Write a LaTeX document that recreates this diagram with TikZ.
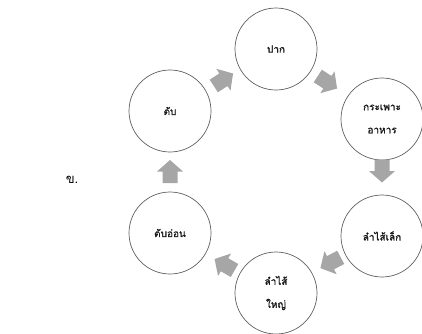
\documentclass[tikz,border=0pt]{standalone}
\usepackage{fontspec}
\newfontfamily\thaifont[Script=Thai]{Loma}
\newfontfamily\thaibold[Script=Thai,FakeBold=1.2]{Loma}
\usetikzlibrary{calc}
\definecolor{arrowgray}{HTML}{A6A6A6}
\definecolor{ringgray}{HTML}{606060}
\tikzset{
  organ/.style={circle, draw=ringgray, line width=0.7pt, minimum size=82pt, inner sep=0pt,
    align=center, font=\thaibold\fontsize{10}{23}\selectfont, text=black!90},
  blockarrow/.pic={\fill[arrowgray] (-11,-7.5) -- (0.5,-7.5) -- (0.5,-13) -- (12,0) -- (0.5,13) -- (0.5,7.5) -- (-11,7.5) -- cycle;}
}
\begin{document}
\begin{tikzpicture}[x=1pt,y=1pt]
\useasboundingbox (0,0) rectangle (422,333);
\node[organ] (pak) at (276,284) {ปาก};
\node[organ] (tab) at (170,222) {ตับ};
\node[organ] (kra) at (382,214) {กระเพาะ\\อาหาร};
\node[organ] (on) at (170,100) {ตับอ่อน};
\node[organ] (lek) at (382,97) {ลำไส้เล็ก};
\node[organ] (yai) at (276,40) {ลำไส้\\ใหญ่};
\node[font=\thaifont\fontsize{13}{15}\selectfont] (label) at (72,153) {ข.};
\pic[rotate=33] at ($(tab)!0.5!(pak)$) {blockarrow};
\pic[rotate=-33] at ($(pak)!0.5!(kra)+(-2,2)$) {blockarrow};
\pic[rotate=-90] at ($(kra)!0.5!(lek)+(0,7)$) {blockarrow};
\pic[rotate=208] at ($(lek)!0.5!(yai)+(2,2)$) {blockarrow};
\pic[rotate=150] at ($(yai)!0.5!(on)+(2,-2)$) {blockarrow};
\pic[rotate=90] at ($(on)!0.5!(tab)$) {blockarrow};
\end{tikzpicture}
\end{document}
